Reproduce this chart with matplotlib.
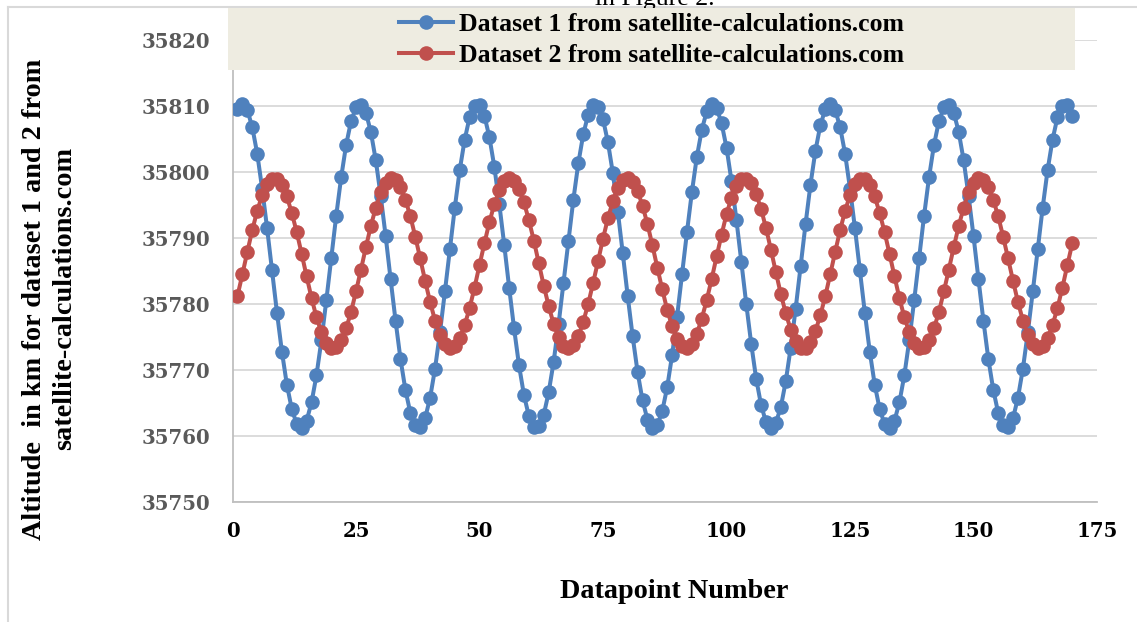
import matplotlib
matplotlib.use("Agg")
import matplotlib.pyplot as plt
from matplotlib.patches import Rectangle
from matplotlib.lines import Line2D
from matplotlib.ticker import FormatStrFormatter
from matplotlib.font_manager import FontProperties

# ---------------- data ----------------
datapoint = list(range(1, 171))

dataset1 = [
    35809.5, 35810.3, 35809.4, 35806.8, 35802.8, 35797.5, 35791.5, 35785.1, 35778.7, 35772.8,
    35767.8, 35764.1, 35761.8, 35761.2, 35762.3, 35765.1, 35769.2, 35774.5, 35780.6, 35787.0,
    35793.4, 35799.2, 35804.1, 35807.7, 35809.8, 35810.2, 35809.0, 35806.1, 35801.8, 35796.4,
    35790.3, 35783.8, 35777.5, 35771.7, 35767.0, 35763.5, 35761.6, 35761.3, 35762.7, 35765.8,
    35770.2, 35775.7, 35781.9, 35788.3, 35794.6, 35800.3, 35804.9, 35808.3, 35810.0, 35810.1,
    35808.5, 35805.3, 35800.8, 35795.2, 35789.0, 35782.5, 35776.3, 35770.7, 35766.2, 35763.0,
    35761.4, 35761.5, 35763.2, 35766.6, 35771.2, 35776.9, 35783.2, 35789.6, 35795.8, 35801.3,
    35805.7, 35808.7, 35810.2, 35809.9, 35808.0, 35804.5, 35799.8, 35794.0, 35787.7, 35781.2,
    35775.1, 35769.7, 35765.4, 35762.5, 35761.2, 35761.7, 35763.8, 35767.4, 35772.3, 35778.1,
    35784.5, 35790.9, 35797.0, 35802.3, 35806.4, 35809.2, 35810.3, 35809.7, 35807.4, 35803.7,
    35798.7, 35792.8, 35786.4, 35780.0, 35774.0, 35768.7, 35764.7, 35762.1, 35761.2, 35762.0,
    35764.4, 35768.3, 35773.4, 35779.3, 35785.7, 35792.1, 35798.1, 35803.2, 35807.1, 35809.5,
    35810.3, 35809.4, 35806.8, 35802.8, 35797.5, 35791.5, 35785.1, 35778.7, 35772.8, 35767.8,
    35764.1, 35761.8, 35761.2, 35762.3, 35765.1, 35769.2, 35774.5, 35780.6, 35787.0, 35793.4,
    35799.2, 35804.1, 35807.7, 35809.8, 35810.2, 35809.0, 35806.1, 35801.8, 35796.4, 35790.3,
    35783.8, 35777.5, 35771.7, 35767.0, 35763.5, 35761.6, 35761.3, 35762.7, 35765.8, 35770.2,
    35775.7, 35781.9, 35788.3, 35794.6, 35800.3, 35804.9, 35808.3, 35810.0, 35810.1, 35808.5,
]

dataset2 = [
    35781.2, 35784.5, 35787.9, 35791.2, 35794.1, 35796.5, 35798.2, 35799.0, 35799.0, 35798.0,
    35796.3, 35793.8, 35790.9, 35787.6, 35784.2, 35780.9, 35778.0, 35775.7, 35774.1, 35773.4,
    35773.5, 35774.5, 35776.3, 35778.8, 35781.9, 35785.2, 35788.6, 35791.8, 35794.6, 35796.9,
    35798.4, 35799.1, 35798.8, 35797.7, 35795.8, 35793.3, 35790.2, 35786.9, 35783.5, 35780.3,
    35777.5, 35775.3, 35773.9, 35773.3, 35773.6, 35774.8, 35776.8, 35779.4, 35782.5, 35785.9,
    35789.2, 35792.4, 35795.1, 35797.3, 35798.6, 35799.1, 35798.7, 35797.4, 35795.4, 35792.7,
    35789.6, 35786.2, 35782.8, 35779.7, 35777.0, 35775.0, 35773.7, 35773.3, 35773.8, 35775.1,
    35777.3, 35780.0, 35783.2, 35786.5, 35789.9, 35793.0, 35795.6, 35797.6, 35798.8, 35799.1,
    35798.5, 35797.1, 35794.9, 35792.1, 35788.9, 35785.5, 35782.2, 35779.1, 35776.6, 35774.7,
    35773.6, 35773.3, 35774.0, 35775.5, 35777.8, 35780.6, 35783.8, 35787.2, 35790.5, 35793.6,
    35796.1, 35797.9, 35798.9, 35799.0, 35798.3, 35796.7, 35794.4, 35791.5, 35788.2, 35784.8,
    35781.5, 35778.6, 35776.1, 35774.4, 35773.4, 35773.4, 35774.2, 35775.9, 35778.3, 35781.2,
    35784.5, 35787.9, 35791.2, 35794.1, 35796.5, 35798.2, 35799.0, 35799.0, 35798.0, 35796.3,
    35793.8, 35790.9, 35787.6, 35784.2, 35780.9, 35778.0, 35775.7, 35774.1, 35773.4, 35773.5,
    35774.5, 35776.3, 35778.8, 35781.9, 35785.2, 35788.6, 35791.8, 35794.6, 35796.9, 35798.4,
    35799.1, 35798.8, 35797.7, 35795.8, 35793.3, 35790.2, 35786.9, 35783.5, 35780.3, 35777.5,
    35775.3, 35773.9, 35773.3, 35773.6, 35774.8, 35776.8, 35779.4, 35782.5, 35785.9, 35789.2,
]

series_names = ["Dataset 1 from satellite-calculations.com",
                "Dataset 2 from satellite-calculations.com"]
x_ticks = [0, 25, 50, 75, 100, 125, 150, 175]
y_ticks = [35750, 35760, 35770, 35780, 35790, 35800, 35810, 35820]
x_label = "Datapoint Number"
y_label_lines = ["Altitude  in km for dataset 1 and 2 from", "satellite-calculations.com"]
caption_fragment = "in Figure 2."

# ---------------- layout ----------------
W, H = 1137, 622
fig = plt.figure(figsize=(W / 100, H / 100), dpi=100)
fig.patch.set_facecolor("white")


def fx(px):
    return px / W


def fy(py):
    return 1 - py / H


BLUE = "#4F81BD"
RED = "#C0504D"
label_font = FontProperties(family="Liberation Serif", weight="bold", size=20.3)
legend_font = FontProperties(family="Liberation Serif", weight="bold", size=18.5)
tick_font = FontProperties(family="DejaVu Serif", weight="bold", size=14.2)

ax = fig.add_axes([fx(232.5), fy(502), fx(1097) - fx(232.5), fy(40) - fy(502)])
ax.plot(datapoint, dataset1, color=BLUE, lw=2.9, marker="o", ms=10.5,
        markeredgewidth=0, label=series_names[0], zorder=3)
ax.plot(datapoint, dataset2, color=RED, lw=2.9, marker="o", ms=10.5,
        markeredgewidth=0, label=series_names[1], zorder=4)

ax.set_xlim(0, 175)
ax.set_ylim(35750, 35820)
ax.set_xticks(x_ticks)
ax.set_yticks(y_ticks)
ax.yaxis.set_major_formatter(FormatStrFormatter("%d"))
ax.grid(axis="y", color="#D9D9D9", lw=1.3)
ax.set_axisbelow(True)
for s in ["top", "right"]:
    ax.spines[s].set_visible(False)
for s in ["left", "bottom"]:
    ax.spines[s].set_color("#BFBFBF")
    ax.spines[s].set_linewidth(1.3)
ax.tick_params(length=0)
ax.tick_params(axis="y", pad=16, labelcolor="#595959")
ax.tick_params(axis="x", pad=14, labelcolor="black")
for lab in ax.get_xticklabels() + ax.get_yticklabels():
    lab.set_fontproperties(tick_font)

# legend background box
fig.add_artist(Rectangle((fx(228), fy(70)), fx(1075) - fx(228), fy(8) - fy(70),
                         transform=fig.transFigure, facecolor="#EEECE1",
                         edgecolor="none", zorder=5))
handles, labels = ax.get_legend_handles_labels()
leg = fig.legend(handles, labels, loc="center", bbox_to_anchor=(fx(651.5), fy(40)),
                 frameon=False, prop=legend_font, handlelength=2.1,
                 handletextpad=0.2, labelspacing=0.29, numpoints=1,
                 borderpad=0, borderaxespad=0)
leg.set_zorder(6)

# outer frame lines
fig.add_artist(Line2D([fx(7.5), fx(7.5)], [fy(7), 0], transform=fig.transFigure,
                      color="#D9D9D9", lw=1.5))
fig.add_artist(Line2D([fx(7.5), 1], [fy(7), fy(7)], transform=fig.transFigure,
                      color="#D9D9D9", lw=1.5))

# caption fragment of the surrounding document (clipped at the top edge, as in the source)
fig.text(fx(655), fy(5), caption_fragment, ha="center", va="baseline",
         fontproperties=FontProperties(family="Liberation Serif", size=18.5))

# axis titles
fig.text(fx(35), fy(299), y_label_lines[0], rotation=90, ha="center", va="center",
         fontproperties=label_font)
fig.text(fx(65), fy(298), y_label_lines[1], rotation=90, ha="center", va="center",
         fontproperties=label_font)
fig.text(fx(674), fy(592), x_label, ha="center", va="center", fontproperties=label_font)

fig.savefig("out.png", dpi=100)
